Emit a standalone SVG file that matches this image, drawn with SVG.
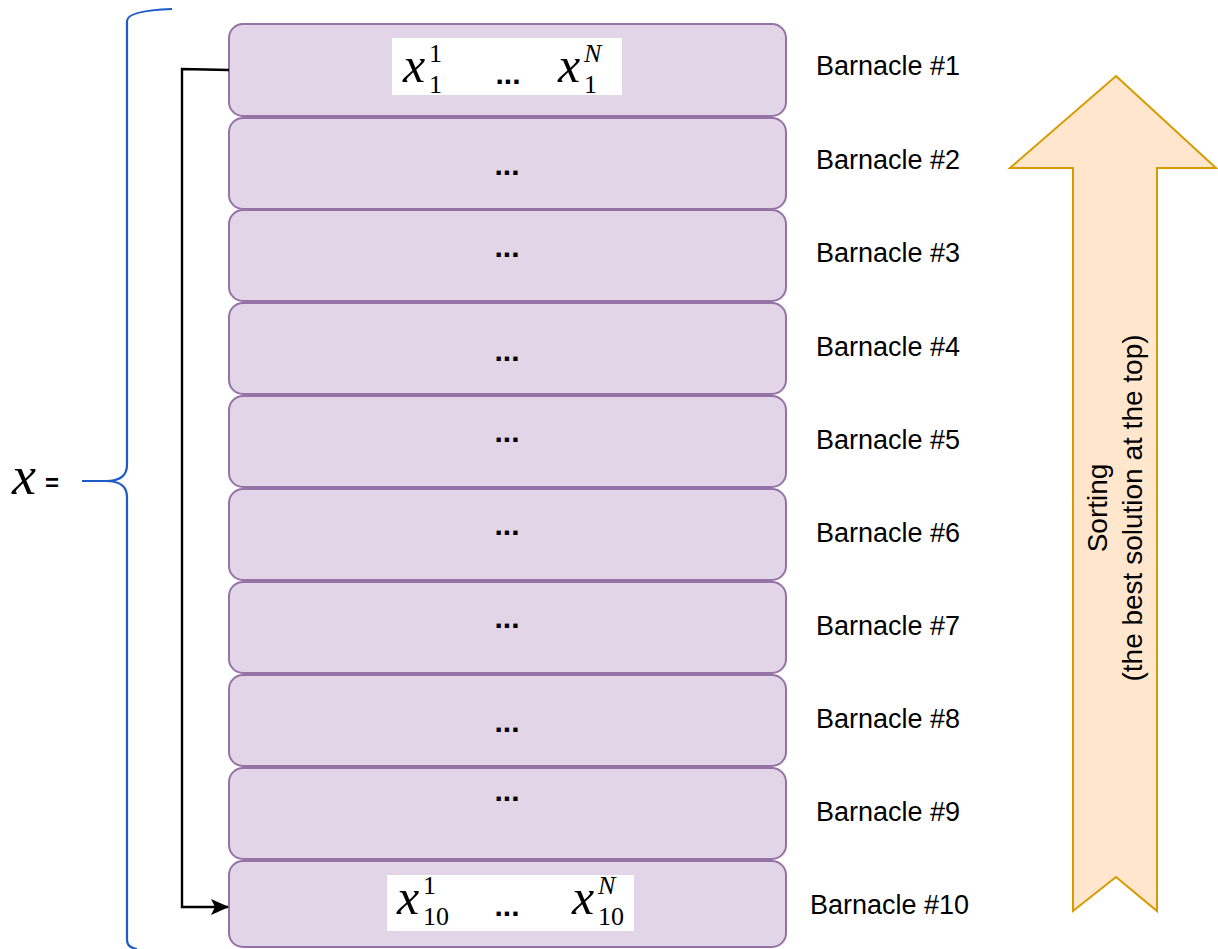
<svg xmlns="http://www.w3.org/2000/svg" width="1218" height="949" viewBox="0 0 1218 949">
  <style>
    .row { fill: #e1d5e7; stroke: #9673a6; stroke-width: 2; }
    .lbl { font-family: "Liberation Sans", Arial, sans-serif; font-size: 27px; fill: #000; }
    .dots { font-family: "Liberation Sans", Arial, sans-serif; font-size: 30px; font-weight: bold; fill: #000; text-anchor: middle; }
    .math { font-family: "Liberation Serif", "Times New Roman", serif; fill: #000; }
    .mx { font-style: italic; font-size: 50px; }
    .idx { font-size: 26px; }
    .cell { fill: #ffffff; }
  </style>
  <defs>
    <marker id="arrowhead" viewBox="0 0 18 16" refX="17" refY="8" markerWidth="18" markerHeight="16" orient="auto" markerUnits="userSpaceOnUse">
      <path d="M0,0 L18,8 L0,16 L4,8 Z" fill="#000"/>
    </marker>
  </defs>

  <!-- brace grouping all barnacles -->
  <g id="brace">
    <path d="M172,9 C146,10 127,13 127,21 L127,465 C127,476 119,481 106,481 L82,481 M106,481 C119,481 127,486 127,497 L127,940 C127,945 130,948 137,949" fill="none" stroke="#1f5bc6" stroke-width="2.2"/>
    <text x="12" y="494" class="math" font-style="italic" font-size="54">x</text>
    <text x="45" y="491" font-family="Liberation Sans, Arial, sans-serif" font-size="24" font-weight="bold" fill="#000">=</text>
  </g>

  <!-- rows -->
  <g id="barnacle-1">
    <rect class="row" x="229" y="24" width="557" height="92" rx="14"/>
    <rect class="cell" x="392" y="38" width="230" height="57"/>
    <text class="math mx" x="403" y="82">x</text>
    <text class="math idx" x="429" y="62">1</text>
    <text class="math idx" x="429" y="93">1</text>
    <text class="dots" x="508" y="84">...</text>
    <text class="math mx" x="558" y="82">x</text>
    <text class="math idx" x="584" y="62" font-style="italic">N</text>
    <text class="math idx" x="584" y="93">1</text>
    <text class="lbl" x="816" y="75">Barnacle #1</text>
  </g>
  <g id="barnacle-2">
    <rect class="row" x="229" y="118" width="557" height="91" rx="14"/>
    <text class="dots" x="507" y="175">...</text>
    <text class="lbl" x="816" y="169">Barnacle #2</text>
  </g>
  <g id="barnacle-3">
    <rect class="row" x="229" y="210" width="557" height="91" rx="14"/>
    <text class="dots" x="507" y="257">...</text>
    <text class="lbl" x="816" y="262">Barnacle #3</text>
  </g>
  <g id="barnacle-4">
    <rect class="row" x="229" y="303" width="557" height="91" rx="14"/>
    <text class="dots" x="507" y="361">...</text>
    <text class="lbl" x="816" y="356">Barnacle #4</text>
  </g>
  <g id="barnacle-5">
    <rect class="row" x="229" y="396" width="557" height="91" rx="14"/>
    <text class="dots" x="507" y="442">...</text>
    <text class="lbl" x="816" y="449">Barnacle #5</text>
  </g>
  <g id="barnacle-6">
    <rect class="row" x="229" y="489" width="557" height="91" rx="14"/>
    <text class="dots" x="507" y="535">...</text>
    <text class="lbl" x="816" y="542">Barnacle #6</text>
  </g>
  <g id="barnacle-7">
    <rect class="row" x="229" y="582" width="557" height="91" rx="14"/>
    <text class="dots" x="507" y="628">...</text>
    <text class="lbl" x="816" y="635">Barnacle #7</text>
  </g>
  <g id="barnacle-8">
    <rect class="row" x="229" y="675" width="557" height="91" rx="14"/>
    <text class="dots" x="507" y="732">...</text>
    <text class="lbl" x="816" y="728">Barnacle #8</text>
  </g>
  <g id="barnacle-9">
    <rect class="row" x="229" y="768" width="557" height="91" rx="14"/>
    <text class="dots" x="507" y="801">...</text>
    <text class="lbl" x="816" y="821">Barnacle #9</text>
  </g>
  <g id="barnacle-10">
    <rect class="row" x="229" y="861" width="557" height="86" rx="14"/>
    <rect class="cell" x="387" y="875" width="247" height="56"/>
    <text class="math mx" x="397" y="914">x</text>
    <text class="math idx" x="423" y="894">1</text>
    <text class="math idx" x="423" y="925">10</text>
    <text class="dots" x="507" y="916">...</text>
    <text class="math mx" x="572" y="914">x</text>
    <text class="math idx" x="598" y="894" font-style="italic">N</text>
    <text class="math idx" x="598" y="925">10</text>
    <text class="lbl" x="810" y="914">Barnacle #10</text>
  </g>

  <!-- sorting arrow -->
  <g id="sorting">
    <polygon points="1116,76 1216,168 1157,168 1157,911 1116,877 1073,911 1073,168 1010,168" fill="#ffe6cc" stroke="#d79b00" stroke-width="2" stroke-linejoin="miter"/>
    <g transform="translate(1115,508) rotate(-90)" font-family="Liberation Sans, Arial, sans-serif" font-size="28" text-anchor="middle" fill="#000">
      <text x="0" y="-8">Sorting</text>
      <text x="0" y="27">(the best solution at the top)</text>
    </g>
  </g>

  <!-- connectors -->
  <g id="connectors">
    <path d="M229,70 L182,69 L182,907 L228,907" fill="none" stroke="#000" stroke-width="2.4" marker-end="url(#arrowhead)"/>
  </g>
</svg>
